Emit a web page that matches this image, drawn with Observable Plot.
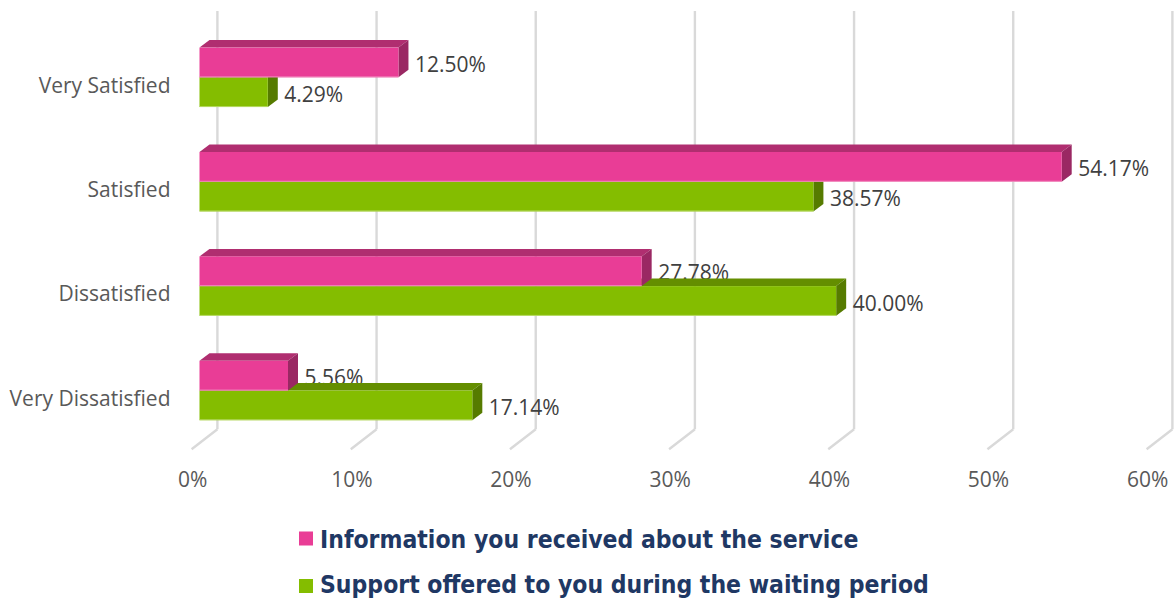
<!DOCTYPE html>
<html>
<head>
<meta charset="utf-8">
<script src="https://cdn.jsdelivr.net/npm/d3@7"></script>
<script src="https://cdn.jsdelivr.net/npm/@observablehq/plot@0.6"></script>
<style>
html,body{margin:0;padding:0;background:#fff;width:1176px;height:598px;overflow:hidden}
svg{display:block}
#legend{margin:-3.3px 0 0 299px;font-family:"DejaVu Sans Condensed","DejaVu Sans";font-weight:bold;font-size:24.5px;color:#1f3864}
.row{height:45.5px;display:flex;align-items:center;white-space:nowrap}
.sw{width:14px;height:14px;margin-right:7px;flex:none;transform:translateY(-0.5px)}
.row:nth-child(2) .sw{transform:translateY(1px)}
</style>
</head>
<body>
<div id="chart"></div>
<div id="legend"></div>
<script>
const categories = ["Very Satisfied", "Satisfied", "Dissatisfied", "Very Dissatisfied"];
const infoValues = [12.50, 54.17, 27.78, 5.56];
const supportValues = [4.29, 38.57, 40.00, 17.14];
const xTicks = [0, 10, 20, 30, 40, 50, 60];
const seriesNames = ["Information you received about the service", "Support offered to you during the waiting period"];
const pink = {front:"#e93d96", top:"#b02e70", side:"#9a2863", edge:"#f296c4"};
const green = {front:"#84bd00", top:"#648e00", side:"#567b00", edge:"#bcdc70"};

const infoRows = categories.map((c,i)=>({cat:c, v:infoValues[i]}));
const supportRows = categories.map((c,i)=>({cat:c, v:supportValues[i]}));
const depthX = 10, depthY = 7.5;
const svgNS = "http://www.w3.org/2000/svg";

function extrude(colors){
  return function(index, scales, values, dims, ctx, next){
    const g = next(index, scales, values, dims, ctx);
    d3.select(g).selectAll("rect").each(function(){
      const x=+this.getAttribute("x"), y=+this.getAttribute("y"),
            w=+this.getAttribute("width"), h=+this.getAttribute("height");
      const add=(pts,fill)=>{
        const p=document.createElementNS(svgNS,"polygon");
        p.setAttribute("points",pts.map(q=>q.join(",")).join(" "));
        p.setAttribute("fill",fill);
        this.parentNode.insertBefore(p,this);
      };
      add([[x,y],[x+depthX,y-depthY],[x+w+depthX,y-depthY],[x+w,y]],colors.top);
      add([[x+w,y],[x+w+depthX,y-depthY],[x+w+depthX,y+h-depthY],[x+w,y+h]],colors.side);
      const edge=document.createElementNS(svgNS,"line");
      edge.setAttribute("x1",x); edge.setAttribute("x2",x+w);
      edge.setAttribute("y1",y+h-0.4); edge.setAttribute("y2",y+h-0.4);
      edge.setAttribute("stroke",colors.edge); edge.setAttribute("stroke-width",0.9);
      this.parentNode.appendChild(edge);
    });
    return g;
  };
}
function floorLines(index, scales, values, dims, ctx, next){
  const g = next(index, scales, values, dims, ctx);
  d3.select(g).selectAll("line").each(function(){
    const x=+this.getAttribute("x1"), y=Math.max(+this.getAttribute("y1"),+this.getAttribute("y2"));
    const l=document.createElementNS(svgNS,"line");
    l.setAttribute("x1",x); l.setAttribute("y1",y);
    l.setAttribute("x2",x-25.8); l.setAttribute("y2",y+20);
    this.parentNode.appendChild(l);
  });
  return g;
}
const fontFamily = '"Open Sans"';
const bars = (rows,colors,dy)=>Plot.barX(rows,{x:"v",y:"cat",dy,fill:colors.front,render:extrude(colors)});
const labels = (rows,dy)=>Plot.text(rows,{x:"v",y:"cat",text:d=>d.v.toFixed(2)+"%",textAnchor:"start",dx:16,dy,fontSize:21,fill:"#404040"});

const chart = Plot.plot({
  width:1176, height:520,
  marginLeft:199.5, marginRight:21.5, marginTop:25.1, marginBottom:77.3,
  style:{fontFamily, background:"transparent", overflow:"visible"},
  x:{domain:[0,60], axis:null},
  y:{domain:categories, axis:null, paddingInner:0.7155, paddingOuter:0.3578, round:false},
  marks:[
    Plot.ruleX(xTicks,{x:d=>d,dx:17.4,insetTop:-14,insetBottom:13.4,stroke:"#d9d9d9",strokeWidth:2.4,render:floorLines}),
    Plot.axisX({ticks:xTicks,anchor:"bottom",tickSize:0,tickPadding:29,dx:-7.3,tickFormat:d=>d+"%",fontSize:21,fill:"#595959",label:null}),
    Plot.axisY({anchor:"left",tickSize:0,tickPadding:29.5,dy:8,fontSize:21,fill:"#595959",label:null}),
    labels(infoRows,-13),
    labels(supportRows,17.2),
    bars(supportRows,green,14.85),
    bars(infoRows,pink,-14.85)
  ]
});
document.getElementById("chart").appendChild(chart);

const legend = d3.select("#legend");
[[seriesNames[0],pink.front],[seriesNames[1],green.front]].forEach(([name,c])=>{
  const r=legend.append("div").attr("class","row");
  r.append("span").attr("class","sw").style("background",c);
  r.append("span").text(name);
});
</script>
</body>
</html>
